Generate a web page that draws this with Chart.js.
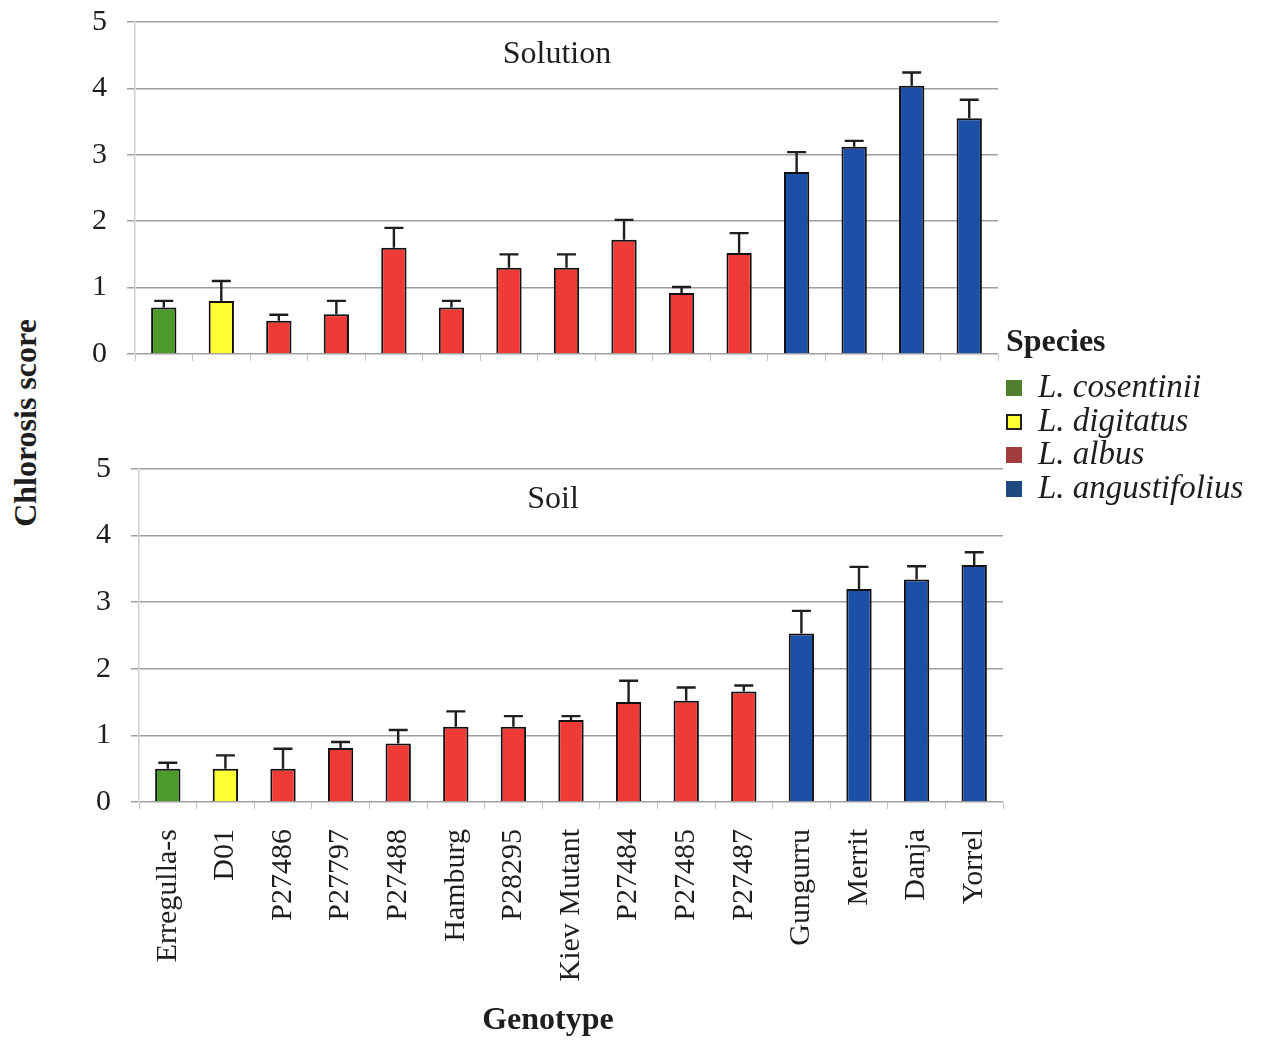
<!DOCTYPE html>
<html>
<head>
<meta charset="utf-8">
<script src="https://cdn.jsdelivr.net/npm/chart.js@4/dist/chart.umd.min.js"></script>
<style>
  html, body { margin: 0; padding: 0; background: #fff; }
  body { width: 1261px; height: 1041px; position: relative; overflow: hidden;
         font-family: "Liberation Serif", "Times New Roman", serif; color: #1e1e1e; }
  .panel { position: absolute; }
  .panel canvas { display: block; }
  .ptitle { position: absolute; font-size: 32px; transform: translateX(-50%); white-space: nowrap; }
  #ytitle { position: absolute; left: 25px; top: 423px; font-weight: bold; font-size: 32px;
            transform: translate(-50%, -50%) rotate(-90deg); white-space: nowrap; }
  #xtitle { position: absolute; left: 548px; top: 1000px; font-weight: bold; font-size: 32px;
            transform: translateX(-50%); white-space: nowrap; }
  #legend { position: absolute; left: 1006px; top: 319px; }
  #legend .head { font-weight: bold; font-size: 32px; line-height: 42px; margin-bottom: 9px; }
  #legend .item { font-style: italic; font-size: 33px; line-height: 33.7px; white-space: nowrap; }
  #legend .sw { display: inline-block; width: 16px; height: 16px; margin-right: 16px; vertical-align: 1px; box-sizing: border-box; }
</style>
</head>
<body>
<div class="panel" style="left:60px; top:0px; width:950px; height:372px;"><canvas id="cTop" width="950" height="372"></canvas></div>
<div class="panel" style="left:64px; top:445px; width:950px; height:596px;"><canvas id="cBot" width="950" height="596"></canvas></div>
<div class="ptitle" style="left:557px; top:34px;">Solution</div>
<div class="ptitle" style="left:553px; top:479px;">Soil</div>
<div id="ytitle">Chlorosis score</div>
<div id="xtitle">Genotype</div>
<div id="legend"></div>
<script>
// Genotypes on the x axis, and the species each belongs to
const genotypes = ['Erregulla-s', 'D01', 'P27486', 'P27797', 'P27488', 'Hamburg', 'P28295',
  'Kiev Mutant', 'P27484', 'P27485', 'P27487', 'Gungurru', 'Merrit', 'Danja', 'Yorrel'];
const species = ['cos', 'dig', 'alb', 'alb', 'alb', 'alb', 'alb', 'alb', 'alb', 'alb', 'alb',
  'ang', 'ang', 'ang', 'ang'];

// Mean chlorosis score and standard error, solution culture
const solutionMean = [0.7, 0.8, 0.5, 0.6, 1.6, 0.7, 1.3, 1.3, 1.72, 0.92, 1.52, 2.74, 3.12, 4.04, 3.55];
const solutionErr  = [0.1, 0.3, 0.09, 0.2, 0.3, 0.1, 0.2, 0.2, 0.3, 0.09, 0.3, 0.3, 0.09, 0.2, 0.28];

// Mean chlorosis score and standard error, soil culture
const soilMean = [0.5, 0.5, 0.5, 0.81, 0.88, 1.13, 1.13, 1.23, 1.5, 1.52, 1.66, 2.53, 3.2, 3.34, 3.56];
const soilErr  = [0.09, 0.2, 0.3, 0.09, 0.2, 0.23, 0.16, 0.06, 0.32, 0.2, 0.09, 0.34, 0.33, 0.2, 0.19];

const yTicks = [0, 1, 2, 3, 4, 5];

const speciesNames = { cos: 'L. cosentinii', dig: 'L. digitatus', alb: 'L. albus', ang: 'L. angustifolius' };
const barColors = { cos: '#4c9a2a', dig: '#ffff33', alb: '#ef3a36', ang: '#1c4fa6' };
const keyColors = { cos: '#4f7f2f', dig: '#ffff33', alb: '#a33c3c', ang: '#1f4880' };

const FONT = '"Liberation Serif", "Times New Roman", serif';

// Upward error bars drawn from each bar's top through the y scale
const errorBars = {
  id: 'errorBars',
  afterDatasetsDraw(chart, args, opts) {
    const ctx = chart.ctx;
    const y = chart.scales.y;
    const meta = chart.getDatasetMeta(0);
    const vals = chart.data.datasets[0].data;
    ctx.save();
    ctx.strokeStyle = '#1e1e1e';
    ctx.lineWidth = 2.4;
    meta.data.forEach((bar, i) => {
      const top = y.getPixelForValue(vals[i] + opts.errors[i]);
      ctx.beginPath();
      ctx.moveTo(bar.x, bar.y);
      ctx.lineTo(bar.x, top);
      ctx.moveTo(bar.x - 9.5, top);
      ctx.lineTo(bar.x + 9.5, top);
      ctx.stroke();
    });
    ctx.restore();
  }
};

function makeChart(id, means, errs, showLabels, pad) {
  return new Chart(document.getElementById(id), {
    type: 'bar',
    data: {
      labels: genotypes,
      datasets: [{
        data: means,
        backgroundColor: species.map(s => barColors[s]),
        borderColor: '#111',
        borderWidth: 2,
        categoryPercentage: 1,
        barPercentage: 0.44
      }]
    },
    options: {
      responsive: false,
      animation: false,
      events: [],
      layout: { padding: pad },
      plugins: {
        legend: { display: false },
        tooltip: { enabled: false },
        errorBars: { errors: errs }
      },
      scales: {
        x: {
          grid: { display: true, drawOnChartArea: false, drawTicks: true, tickLength: 7, color: '#c4c4c4', lineWidth: 1 },
          border: { display: false },
          ticks: {
            display: showLabels,
            minRotation: 90, maxRotation: 90,
            padding: 20,
            color: '#1e1e1e',
            font: { family: FONT, size: 30 }
          },
          afterFit(axis) {
            axis.height = showLabels ? 239 : 10;
            axis.paddingLeft = 0; axis.paddingRight = 0;
          }
        },
        y: {
          min: 0, max: 5,
          afterBuildTicks(axis) { axis.ticks = yTicks.map(v => ({ value: v })); },
          grid: { color: '#a0a0a0', lineWidth: 1.5, tickLength: 8 },
          border: { display: true, color: '#d0d0d0', width: 1.5 },
          ticks: {
            padding: 20,
            color: '#1e1e1e',
            font: { family: FONT, size: 30 }
          },
          afterFit(axis) {
            axis.width = 75;
            axis.paddingTop = 0; axis.paddingBottom = 0;
          }
        }
      }
    },
    plugins: [errorBars]
  });
}

makeChart('cTop', solutionMean, solutionErr, false, { top: 22, right: 12, bottom: 8, left: 0 });
makeChart('cBot', soilMean, soilErr, true, { top: 24, right: 11, bottom: 0, left: 0 });

// Species key
const legend = document.getElementById('legend');
const head = document.createElement('div');
head.className = 'head';
head.textContent = 'Species';
legend.appendChild(head);
['cos', 'dig', 'alb', 'ang'].forEach(k => {
  const row = document.createElement('div');
  row.className = 'item';
  const sw = document.createElement('span');
  sw.className = 'sw';
  sw.style.background = keyColors[k];
  if (k === 'dig') sw.style.border = '2.5px solid #222';
  row.appendChild(sw);
  row.appendChild(document.createTextNode(speciesNames[k]));
  legend.appendChild(row);
});
</script>
</body>
</html>
